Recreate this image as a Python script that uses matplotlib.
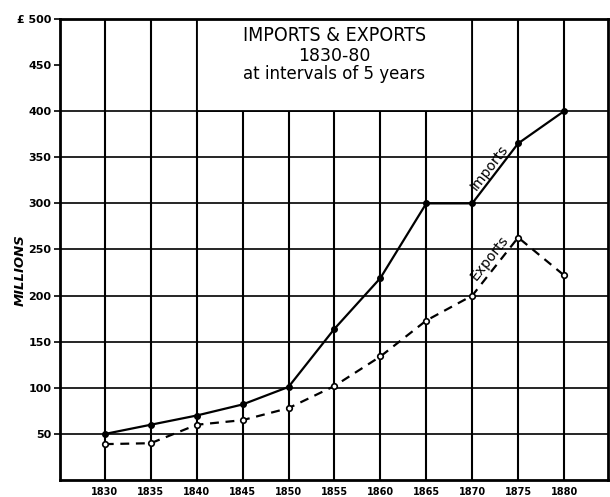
import numpy as np
import matplotlib
matplotlib.use("Agg")
import matplotlib.pyplot as plt
from matplotlib.patches import Rectangle

# Values in millions of pounds, every five years
years = [1830, 1835, 1840, 1845, 1850, 1855, 1860, 1865, 1870, 1875, 1880]
imports = [50, 60, 70, 82, 101, 164, 219, 300, 300, 365, 400]
exports = [39, 40, 60, 65, 78, 102, 134, 173, 200, 263, 222]

y_ticks = [50, 100, 150, 200, 250, 300, 350, 400, 450, 500]
y_tick_labels = ["50", "100", "150", "200", "250", "300", "350", "400", "450", "£ 500"]
h_grid = [50, 100, 150, 200, 250, 300, 350, 400]

title_lines = ["IMPORTS & EXPORTS", "1830-80", "at intervals of 5 years"]

plt.rcParams["font.family"] = ["DejaVu Sans"]

fig = plt.figure(figsize=(6.10, 4.97), dpi=100)
ax = fig.add_axes([0.098, 0.034, 0.899, 0.928])
ax.set_xlim(1825.1, 1884.8)
ax.set_ylim(0, 500)

# grid: vertical rules at each year, horizontal rules up to 400
for x in years:
    ax.axvline(x, color="black", lw=1.5, zorder=1)
for y in h_grid:
    ax.axhline(y, color="black", lw=1.2, zorder=1)

# title panel sitting on the grid
ax.add_patch(Rectangle((1840, 400), 30, 100, facecolor="white",
                       edgecolor="black", lw=1.3, zorder=2))
ax.text(1855, 482, title_lines[0], ha="center", va="center", fontsize=14,
        fontweight="medium", fontstretch="condensed", zorder=3)
ax.text(1855, 460, title_lines[1], ha="center", va="center", fontsize=12.5,
        zorder=3)
ax.text(1855, 440, title_lines[2], ha="center", va="center", fontsize=12,
        zorder=3)

ax.plot(years, imports, color="black", lw=1.6, marker="o", ms=4,
        mfc="black", mec="black", zorder=4)
ax.plot(years, exports, color="black", lw=1.6, ls=(0, (4, 3)), marker="o",
        ms=4, mfc="white", mec="black", mew=1.2, zorder=4)

fig.canvas.draw()


def seg_label(text, xs, ys, i, offset):
    p0 = ax.transData.transform((xs[i], ys[i]))
    p1 = ax.transData.transform((xs[i + 1], ys[i + 1]))
    ang = np.degrees(np.arctan2(p1[1] - p0[1], p1[0] - p0[0]))
    mx = (xs[i] + xs[i + 1]) / 2
    my = (ys[i] + ys[i + 1]) / 2
    ax.annotate(text, (mx, my), xytext=offset, textcoords="offset points",
                rotation=ang, rotation_mode="anchor", ha="center",
                va="center", fontsize=10, zorder=5)


seg_label("Imports", years, imports, 8, (-4, 4))
seg_label("Exports", years, exports, 8, (-4, 6))

ax.set_yticks(y_ticks)
ax.set_yticklabels(y_tick_labels, fontweight="bold", fontsize=8)
ax.set_xticks(years)
ax.set_xticklabels([str(y) for y in years], fontweight="bold", fontsize=7)
ax.tick_params(axis="y", length=4, width=1.2, pad=2)
ax.tick_params(axis="x", length=0, pad=5)

for side in ["left", "top", "right", "bottom"]:
    ax.spines[side].set_linewidth(2.0)
    ax.spines[side].set_zorder(6)

fig.text(20 / 610, 1 - 270 / 497, "MILLIONS", rotation=90, ha="center",
         va="center", fontstyle="italic", fontweight="bold", fontsize=9.5)

fig.savefig("out.png", dpi=100)
